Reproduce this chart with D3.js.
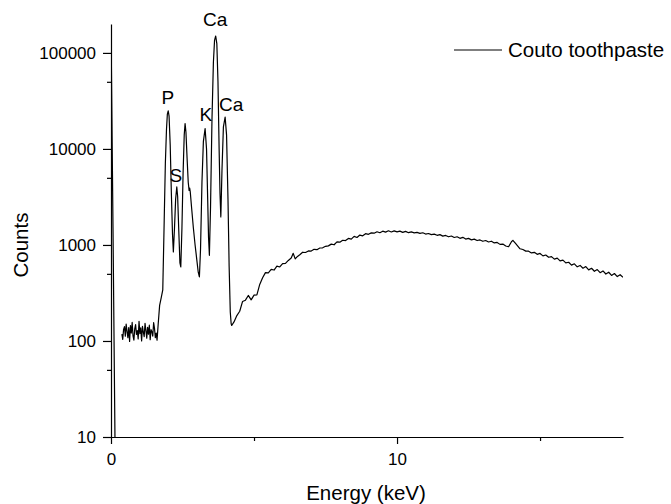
<!DOCTYPE html>
<html>
<head>
<meta charset="utf-8">
<script src="https://cdn.jsdelivr.net/npm/d3@7"></script>
<style>
  body { margin: 0; background: #fff; }
  svg text { font-family: "Liberation Sans", Arial, sans-serif; fill: #000; }
  .axis path, .axis line { stroke: #000; stroke-width: 1.2; }
  .axis text { font-size: 17px; }
</style>
</head>
<body>
<div id="chart-area"></div>
<script>

// DATA

// leading spike at zero energy, gap (0 = no counts), noisy floor, peaks, continuum
var energy = [0, 0.07, 0.14, 0.25,
    0.38, 0.41, 0.44, 0.47, 0.50, 0.53, 0.56, 0.59, 0.62, 0.65, 0.68, 0.71, 0.74, 0.77,
    0.80, 0.83, 0.86, 0.89, 0.92, 0.95, 0.98, 1.01, 1.04, 1.07, 1.10, 1.13, 1.16, 1.19,
    1.22, 1.25, 1.28, 1.31, 1.34, 1.37, 1.40, 1.43, 1.46, 1.49, 1.52, 1.55, 1.58, 1.61,
    1.65, 1.70, 1.76, 1.81, 1.86, 1.90, 1.94, 1.97, 2.00, 2.03, 2.07, 2.11, 2.15, 2.18,
    2.22, 2.26, 2.30, 2.33, 2.37, 2.41, 2.44, 2.48, 2.52, 2.56, 2.59, 2.62, 2.66, 2.70,
    2.73, 2.75, 2.77, 2.82, 2.88, 2.94, 3.00, 3.05, 3.09, 3.13, 3.18, 3.23, 3.29, 3.34,
    3.38, 3.41, 3.44, 3.48, 3.53, 3.58, 3.62, 3.66, 3.70, 3.74, 3.78, 3.81, 3.84, 3.88,
    3.93, 3.99, 4.04, 4.09, 4.13, 4.17, 4.20, 4.22,
    4.3, 4.4, 4.5, 4.6, 4.7, 4.8, 4.9, 5.0, 5.1, 5.2, 5.3, 5.4, 5.5, 5.6, 5.7, 5.8, 5.9,
    6.0, 6.1, 6.2, 6.3, 6.37, 6.44, 6.52, 6.6, 6.7, 6.8, 6.9, 7.0, 7.1, 7.2, 7.3, 7.4,
    7.5, 7.6, 7.7, 7.8, 7.9, 8.0, 8.1, 8.2, 8.3, 8.4, 8.5, 8.6, 8.7, 8.8, 8.9, 9.0, 9.1,
    9.2, 9.3, 9.4, 9.5, 9.6, 9.7, 9.8, 9.9, 10.0, 10.1, 10.2, 10.3, 10.4, 10.5, 10.6,
    10.7, 10.8, 10.9, 11.0, 11.1, 11.2, 11.3, 11.4, 11.5, 11.6, 11.7, 11.8, 11.9, 12.0,
    12.1, 12.2, 12.3, 12.4, 12.5, 12.6, 12.7, 12.8, 12.9, 13.0, 13.1, 13.2, 13.3, 13.4,
    13.5, 13.6, 13.7, 13.8, 13.9, 14.0, 14.05, 14.15, 14.3, 14.4, 14.5, 14.6, 14.7, 14.8,
    14.9, 15.0, 15.1, 15.2, 15.3, 15.4, 15.5, 15.6, 15.7, 15.8, 15.9, 16.0, 16.1, 16.2,
    16.3, 16.4, 16.5, 16.6, 16.7, 16.8, 16.9, 17.0, 17.1, 17.2, 17.3, 17.4, 17.5, 17.6,
    17.7, 17.8, 17.9];

var counts = [195000, 1500, 9, 0,
    118, 104, 132, 141, 112, 150, 126, 108, 138, 99, 145, 121, 156, 113,
    102, 134, 148, 117, 128, 105, 160, 119, 137, 100, 142, 124, 111, 153,
    129, 107, 139, 118, 146, 103, 131, 125, 112, 155, 136, 108, 121, 102,
    150, 235, 287, 340, 1800, 7000, 16000, 23000, 24900, 22000, 11000, 3500, 1300, 845,
    1500, 3000, 4020, 3200, 1400, 650, 590, 1500, 5500, 14000, 18400, 15000, 8000, 4500,
    3700, 3900, 3600, 2400, 1500, 1000, 700, 520, 464, 900, 4500, 12000, 16300, 10000,
    3000, 1200, 780, 2500, 20000, 80000, 135000, 150000, 125000, 50000, 10000, 3500, 1960, 6000,
    17000, 21500, 14000, 3000, 600, 200, 152, 145,
    158, 184, 204, 258, 266, 298, 268, 300, 302, 388, 455, 515, 512, 556, 548, 602, 590,
    640, 644, 690, 730, 818, 716, 760, 790, 840, 834, 866, 864, 900, 892, 930, 934,
    968, 978, 1020, 1004, 1076, 1068, 1120, 1110, 1170, 1150, 1230, 1196, 1268, 1244, 1310, 1290, 1336,
    1326, 1372, 1340, 1392, 1360, 1404, 1366, 1402, 1370, 1394, 1352, 1386, 1342, 1368, 1338,
    1350, 1318, 1340, 1298, 1316, 1282, 1296, 1260, 1280, 1236, 1256, 1216, 1240, 1196,
    1218, 1172, 1200, 1152, 1170, 1130, 1150, 1112, 1128, 1092, 1112, 1074, 1094, 1050,
    1062, 1014, 1022, 976, 958, 1080, 1118, 1030, 912, 896, 862, 862, 826, 838,
    798, 816, 770, 786, 744, 756, 712, 730, 682, 694, 650, 660, 616, 636,
    592, 612, 572, 596, 550, 572, 532, 554, 514, 536, 498, 520, 482, 504,
    468, 490, 460];

// peak annotations
var labelText   = ["Ca", "P", "S", "K", "Ca"];
var labelEnergy = [3.64, 1.99, 2.27, 3.32, 4.20];
var labelCounts = [225000, 34700, 5330, 23100, 29300];

// ticks
var xMajor = [0, 10];
var xMinor = [5, 15];
var yMajor = [10, 100, 1000, 10000, 100000];
var yMinor = [50, 500, 5000, 50000];

var seriesName = "Couto toothpaste";


// CHART AREA

var margin = {top: 24, right: 48, bottom: 67, left: 111},
    width = 671 - margin.left - margin.right,
    height = 504 - margin.top - margin.bottom;

var svg = d3.select("#chart-area").append("svg")
    .attr("width", 671)
    .attr("height", 504)
    .append("g")
    .attr("transform", "translate(" + margin.left + "," + margin.top + ")");

svg.append("clipPath")
    .attr("id", "plot-clip")
    .append("rect")
    .attr("width", width)
    .attr("height", height);


// SCALES + AXES

var x = d3.scaleLinear()
    .domain([0, 17.9])
    .range([0, width]);

var y = d3.scaleLog()
    .domain([10, 200000])
    .range([height, 0]);

svg.append("g")
    .attr("class", "axis")
    .attr("transform", "translate(0," + height + ")")
    .call(d3.axisBottom(x).tickValues(xMinor).tickSize(4).tickFormat(""))
    .select(".domain").remove();

svg.append("g")
    .attr("class", "axis")
    .attr("transform", "translate(0," + height + ")")
    .call(d3.axisBottom(x).tickValues(xMajor).tickSize(7).tickSizeOuter(0).tickPadding(9)
        .tickFormat(d3.format("d")));

svg.append("g")
    .attr("class", "axis")
    .call(d3.axisLeft(y).tickValues(yMinor).tickSize(4).tickFormat(""))
    .select(".domain").remove();

svg.append("g")
    .attr("class", "axis")
    .call(d3.axisLeft(y).tickValues(yMajor).tickSize(8).tickSizeOuter(0).tickPadding(7)
        .tickFormat(d3.format("d")));

// axis titles
svg.append("text")
    .attr("x", 366 - margin.left)
    .attr("y", 500 - margin.top)
    .style("text-anchor", "middle")
    .style("font-size", "20.5px")
    .text("Energy (keV)");

svg.append("text")
    .attr("transform", "translate(" + (28 - margin.left) + "," + (245 - margin.top) + ") rotate(-90)")
    .style("text-anchor", "middle")
    .style("font-size", "20.5px")
    .text("Counts");


// SPECTRUM

var spectrum = energy.map(function(e, i) { return {e: e, c: counts[i]}; });

var line = d3.line()
    .defined(function(d) { return d.c > 0; })
    .x(function(d) { return x(d.e); })
    .y(function(d) { return y(d.c); });

svg.append("path")
    .datum(spectrum)
    .attr("clip-path", "url(#plot-clip)")
    .attr("fill", "none")
    .attr("stroke", "#000")
    .attr("stroke-width", 1.2)
    .attr("stroke-linejoin", "round")
    .attr("d", line);


// PEAK LABELS

svg.selectAll(".peak-label")
    .data(labelText)
    .enter()
    .append("text")
    .attr("class", "peak-label")
    .attr("x", function(d, i) { return x(labelEnergy[i]); })
    .attr("y", function(d, i) { return y(labelCounts[i]); })
    .attr("dy", "0.36em")
    .style("text-anchor", "middle")
    .style("font-size", "19px")
    .text(function(d) { return d; });


// LEGEND

var legend = svg.append("g")
    .attr("transform", "translate(" + (454 - margin.left) + "," + (50 - margin.top) + ")");

legend.append("line")
    .attr("x1", 0)
    .attr("x2", 48)
    .attr("stroke", "#000")
    .attr("stroke-width", 1.1);

legend.append("text")
    .attr("x", 54)
    .attr("dy", "0.36em")
    .style("font-size", "20.5px")
    .text(seriesName);

</script>
</body>
</html>
